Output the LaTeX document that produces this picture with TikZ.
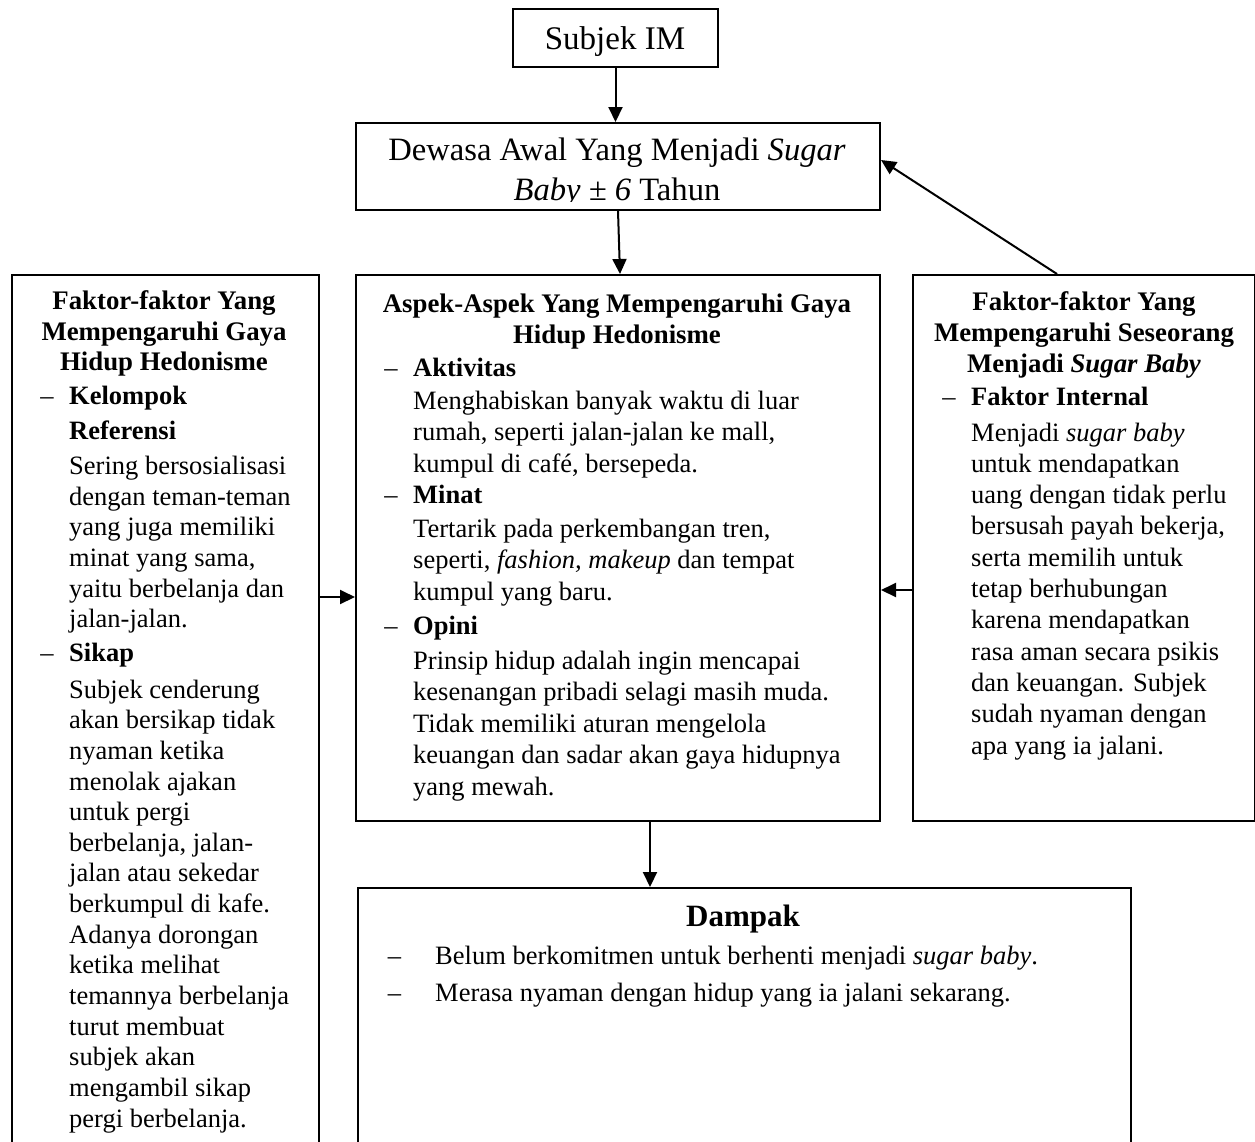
\documentclass[tikz,border=0pt]{standalone}
\usepackage{fontspec}
\setmainfont{Liberation Serif}
\usetikzlibrary{arrows.meta}
\begin{document}
\begin{tikzpicture}[x=1pt,y=-1pt,
  box/.style={draw=black, line width=2pt, inner sep=0pt, anchor=north west},
  conn/.style={line width=2pt, -{Triangle[length=15pt,width=14pt]}},
  headL/.style={font=\fontsize{26.8}{30.8}\selectfont\bfseries, align=center, inner sep=0pt, anchor=north},
  headM/.style={font=\fontsize{26.8}{31.2}\selectfont\bfseries, align=center, inner sep=0pt, anchor=north},
  bodyL/.style={font=\fontsize{26.5}{30.65}\selectfont, align=left, inner sep=0pt, anchor=north west},
  bodyM/.style={font=\fontsize{26.5}{31.5}\selectfont, align=left, inner sep=0pt, anchor=north west},
  bodyR/.style={font=\fontsize{26.5}{31.3}\selectfont, align=left, inner sep=0pt, anchor=north west},
]
\newcommand{\fs}{\rule{0pt}{22pt}}
\newcommand{\dashL}{\llap{–\hspace{15.5pt}}}
\clip (0,0) rectangle (1255,1141);
\fill[white] (0,0) rectangle (1255,1141);

% boxes
\node[box, minimum width=205pt, minimum height=58pt] (subjek) at (512,8) {};
\node[box, minimum width=524pt, minimum height=87pt] (dewasa) at (355,122) {};
\node[box, minimum width=307pt, minimum height=900pt] (left) at (11,274) {};
\node[box, minimum width=524pt, minimum height=546pt] (mid) at (355,274) {};
\node[box, minimum width=342pt, minimum height=546pt] (right) at (912,274) {};
\node[box, minimum width=773pt, minimum height=400pt] (dampak) at (357,887) {};

% top texts
\node[font=\fontsize{33}{40}\selectfont, inner sep=0pt, anchor=base] (subjekT) at (615,49) {Subjek IM};
\begin{scope}
  \clip (357,124) rectangle (877,201);
  \node[font=\fontsize{32.6}{40}\selectfont, inner sep=0pt, align=center, anchor=north] (dewasaT) at (617,138) {\rule{0pt}{22pt}Dewasa Awal Yang Menjadi \textit{Sugar}\\\textit{Baby ± 6} Tahun};
\end{scope}

% left box
\node[headL] (leftH) at (164,287) {\fs Faktor-faktor Yang\\Mempengaruhi Gaya\\Hidup Hedonisme};
\node[bodyL] (leftB) at (69,382) {%
\dashL\fs\textbf{Kelompok}\\[4.5pt]
\textbf{Referensi}\\[4.5pt]
Sering bersosialisasi\\
dengan teman-teman\\
yang juga memiliki\\
minat yang sama,\\
yaitu berbelanja dan\\
jalan-jalan.\\[3.5pt]
\dashL\textbf{Sikap}\\[5.5pt]
Subjek cenderung\\
akan bersikap tidak\\
nyaman ketika\\
menolak ajakan\\
untuk pergi\\
berbelanja, jalan-\\
jalan atau sekedar\\
berkumpul di kafe.\\
Adanya dorongan\\
ketika melihat\\
temannya berbelanja\\
turut membuat\\
subjek akan\\
mengambil sikap\\
pergi berbelanja.};

% middle box
\node[headM] (midH) at (617,290) {\fs Aspek-Aspek Yang Mempengaruhi Gaya\\Hidup Hedonisme};
\node[bodyM] (midB) at (413,354) {%
\dashL\fs\textbf{Aktivitas}\\[1.5pt]
Menghabiskan banyak waktu di luar\\
rumah, seperti jalan-jalan ke mall,\\
kumpul di café, bersepeda.\\
\dashL\textbf{Minat}\\[2pt]
Tertarik pada perkembangan tren,\\
seperti, \textit{fashion, makeup} dan tempat\\
kumpul yang baru.\\[2.5pt]
\dashL\textbf{Opini}\\[3.5pt]
Prinsip hidup adalah ingin mencapai\\
kesenangan pribadi selagi masih muda.\\
Tidak memiliki aturan mengelola\\
keuangan dan sadar akan gaya hidupnya\\
yang mewah.};

% right box
\node[headM] (rightH) at (1084,288) {\fs Faktor-faktor Yang\\Mempengaruhi Seseorang\\Menjadi \textit{Sugar Baby}};
\node[bodyR] (rightB) at (971,383) {%
\dashL\fs\textbf{Faktor Internal}\\[4.5pt]
Menjadi \textit{sugar baby}\\
untuk mendapatkan\\
uang dengan tidak perlu\\
bersusah payah bekerja,\\
serta memilih untuk\\
tetap berhubungan\\
karena mendapatkan\\
rasa aman secara psikis\\
dan keuangan. Subjek\\
sudah nyaman dengan\\
apa yang ia jalani.};

% dampak
\node[font=\fontsize{31}{36}\selectfont\bfseries, inner sep=0pt, anchor=base] (dampakH) at (743,926) {Dampak};
\node[font=\fontsize{26.5}{30}\selectfont, align=left, inner sep=0pt, anchor=north west] (dampakB) at (435,942) {%
\llap{–\hspace{34pt}}\fs Belum berkomitmen untuk berhenti menjadi \textit{sugar baby}.\\[7pt]
\llap{–\hspace{34pt}}Merasa nyaman dengan hidup yang ia jalani sekarang.};

% connectors
\draw[conn] (subjek.south) -- (dewasa.north -| subjek.south);
\draw[conn] (dewasa.south -| 618,0) -- (mid.north -| 620,0);
\draw[conn] (right.north -| 1057,0) -- (dewasa.east |- 0,160);
\draw[conn] (left.east |- 0,597) -- (mid.west |- 0,597);
\draw[conn] (right.west |- 0,590) -- (mid.east |- 0,590);
\draw[conn] (mid.south -| 650,0) -- (dampak.north -| 650,0);
\end{tikzpicture}
\end{document}
